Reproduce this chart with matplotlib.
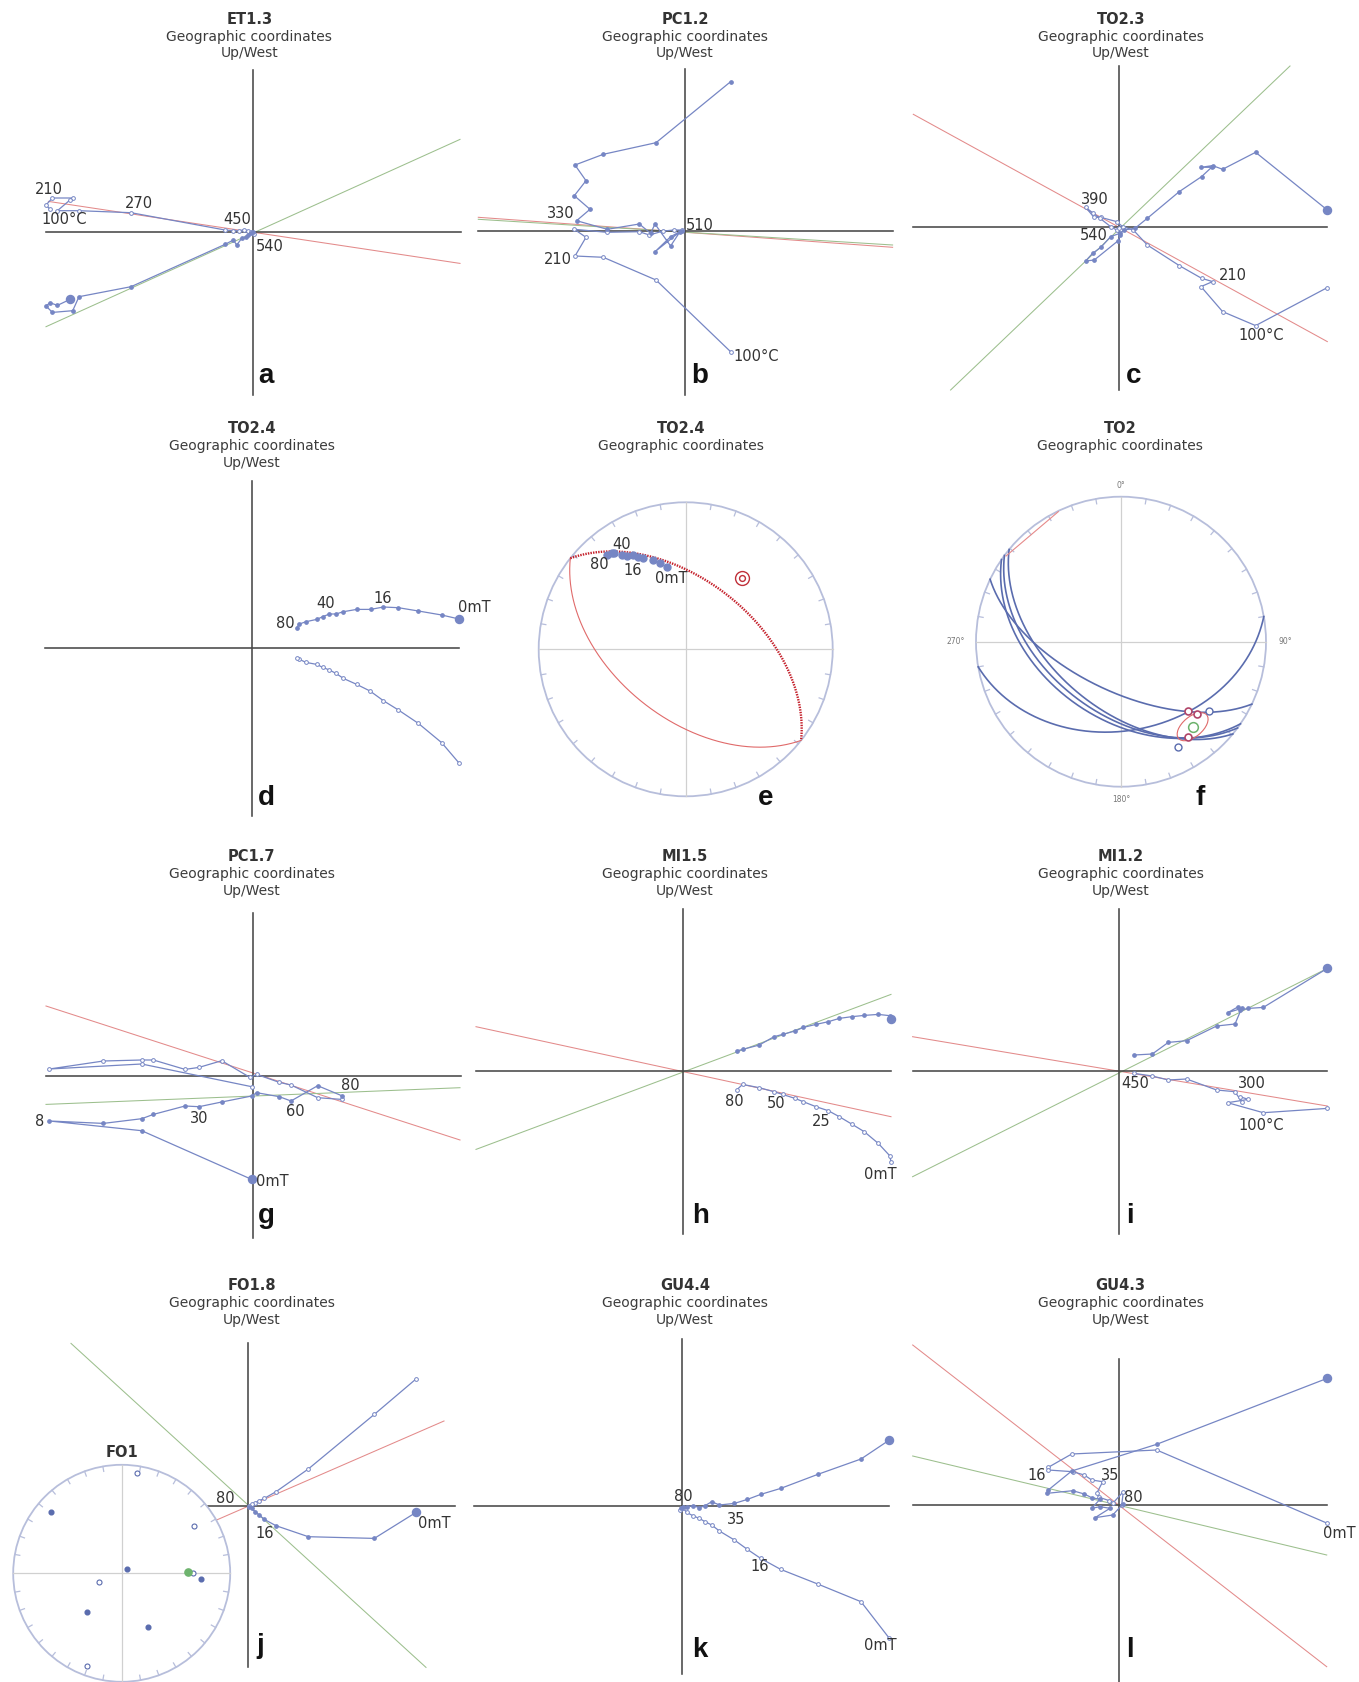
import numpy as np
import matplotlib.pyplot as plt
from matplotlib.patches import Circle, Ellipse

W, H = 1359, 1682

BLUE = '#7686c4'
NET_BLUE = '#5a6cae'
AXIS = '#474747'
RED_FIT = '#e38a8a'
GREEN_FIT = '#9cbf8d'
NET_EDGE = '#b7bedb'
NET_GRID = '#d0d0d0'
TXT = '#333333'

# ---------------------------------------------------------------------------
# Orthogonal vector plots: (E/W, N/Up) components, horizontal = filled,
# vertical = open.  Units are plot units with the origin at the axes cross.
# ---------------------------------------------------------------------------
ET13_HOR = [(-182.7, -67.7), (-195.3, -73.7), (-202.7, -71.0), (-206.7, -74.3), (-200.3, -80.7),
            (-180.0, -79.0), (-173.7, -65.0), (-121.7, -55.0), (-27.7, -12.7), (-19.3, -8.3),
            (-16.0, -13.3), (-11.0, -6.7), (-6.7, -5.7), (-4.3, -3.3), (-2.0, -1.7), (0.0, -0.7)]
ET13_VER = [(-202.7, 22.3), (-206.7, 26.7), (-200.3, 33.7), (-180.0, 33.7), (-182.7, 31.7),
            (-195.3, 21.0), (-173.7, 21.0), (-121.7, 19.0), (-27.7, 1.7), (-19.3, 1.0),
            (-13.3, 1.0), (-8.3, 2.0), (-4.3, 0.7), (-2.0, -0.7), (1.3, -2.7)]
ET13_RED = [(-204.3, 30.3), (207.3, -31.7)]
ET13_GREEN = [(-206.7, -95.0), (207.3, 92.3)]
ET13_STEPS = ['210', '270', '100°C', '450', '540']

PC12_HOR = [(45.3, 149.3), (-29.3, 88.3), (-82.0, 76.7), (-110.3, 66.0), (-99.3, 50.3),
            (-111.0, 35.3), (-95.3, 21.7), (-108.7, 10.3), (-78.0, 1.7), (-46.0, 7.0),
            (-34.7, -2.3), (-30.3, 7.0), (-14.7, -15.0), (-5.3, -0.7), (-30.3, -20.7),
            (-14.7, -5.7), (-3.7, 0.3)]
PC12_VER = [(45.3, -120.7), (-29.3, -49.0), (-82.0, -26.3), (-110.3, -25.0), (-99.3, -6.3),
            (-111.0, 1.7), (-78.7, -1.3), (-46.0, -0.7), (-36.0, -4.0), (-22.0, 0.0),
            (-11.3, 1.0), (-3.7, 1.0)]
PC12_RED = [(-207.0, 13.7), (207.3, -16.3)]
PC12_GREEN = [(-207.0, 11.7), (207.3, -14.0)]
PC12_STEPS = ['330', '510', '210', '100°C']

TO23_HOR = [(208.0, 17.3), (136.3, 75.0), (103.3, 58.0), (93.3, 61.7), (81.7, 60.0),
            (92.3, 60.0), (82.3, 50.7), (60.0, 35.7), (28.0, 9.0), (15.7, -1.0),
            (4.7, -2.7), (0.7, -6.0), (-8.7, -9.3), (-18.3, -20.0), (-26.7, -26.0),
            (-33.7, -33.7), (-25.0, -32.7), (-1.0, -13.3), (0.7, -7.7)]
TO23_VER = [(208.0, -60.3), (136.3, -98.3), (103.3, -84.3), (81.7, -59.3), (93.3, -54.3),
            (82.3, -51.0), (60.0, -38.3), (28.0, -17.7), (14.0, -2.7), (3.3, 0.7),
            (-2.7, 5.7), (-18.7, 10.0), (-25.3, 10.0), (-33.7, 20.0), (-26.0, 14.0),
            (-19.3, 9.0), (-8.7, 0.7), (-2.7, -2.7), (0.0, -1.0)]
TO23_RED = [(-206.0, 113.0), (208.0, -114.3)]
TO23_GREEN = [(-168.7, -162.7), (170.7, 161.3)]
TO23_STEPS = ['390', '540', '210', '100°C']

TO24_HOR = [(207.3, 28.7), (190.0, 32.7), (166.7, 36.7), (146.7, 40.0), (131.7, 40.7),
            (119.0, 38.3), (105.0, 38.3), (91.7, 36.0), (84.3, 33.7), (77.7, 33.7),
            (71.0, 31.0), (65.0, 28.3), (54.3, 26.0), (47.7, 23.7), (45.0, 20.0)]
TO24_VER = [(207.3, -115.3), (190.0, -95.0), (166.7, -75.7), (146.7, -62.3), (131.7, -53.0),
            (118.3, -43.3), (105.0, -36.7), (91.7, -30.7), (84.3, -25.7), (77.7, -22.3),
            (71.0, -19.7), (65.0, -16.7), (54.3, -14.7), (47.7, -11.7), (45.0, -10.7)]
TO24_STEPS = ['80', '40', '16', '0mT']

PC17_HOR = [(-1.0, -103.7), (-111.0, -55.0), (-203.3, -45.3), (-149.3, -47.7), (-111.0, -43.0),
            (-99.3, -38.7), (-67.7, -30.3), (-53.7, -31.0), (-31.0, -26.3), (-1.0, -20.3),
            (4.0, -17.0), (26.7, -21.0), (38.3, -25.3), (65.0, -10.0), (89.0, -20.0)]
PC17_VER = [(-1.0, -11.0), (-111.0, 11.7), (-203.3, 6.7), (-149.3, 14.7), (-111.0, 15.7),
            (-99.3, 15.7), (-67.7, 6.3), (-53.7, 8.3), (-31.0, 15.0), (-2.7, -1.7),
            (4.0, 1.3), (26.7, -6.7), (38.3, -9.3), (65.0, -22.0), (89.0, -23.7)]
PC17_RED = [(-206.7, 69.7), (207.3, -64.3)]
PC17_GREEN = [(-206.7, -28.7), (207.3, -12.0)]
PC17_STEPS = ['8', '30', '60', '80', '0mT']

MI15_HOR = [(207.7, 51.3), (206.7, 55.0), (195.0, 56.3), (181.0, 55.3), (168.3, 54.0),
            (156.0, 52.3), (145.0, 49.0), (132.7, 46.3), (120.0, 43.3), (111.7, 39.7),
            (99.3, 36.3), (90.7, 34.0), (76.0, 25.7), (59.3, 21.3), (53.3, 19.7)]
MI15_VER = [(207.7, -91.7), (206.7, -85.3), (195.0, -72.7), (181.0, -61.0), (168.3, -53.3),
            (156.0, -46.0), (145.0, -40.0), (132.7, -36.0), (120.0, -31.0), (111.7, -27.7),
            (99.3, -23.7), (90.7, -21.0), (76.0, -17.0), (59.3, -13.7), (53.3, -19.3)]
MI15_RED = [(-207.3, 44.0), (207.7, -46.0)]
MI15_GREEN = [(-207.3, -78.7), (207.7, 76.3)]
MI15_STEPS = ['80', '50', '25', '0mT']

MI12_HOR = [(208.0, 102.3), (144.0, 63.3), (129.0, 62.3), (120.7, 60.7), (119.0, 64.0),
            (108.3, 58.0), (122.3, 62.3), (115.7, 46.7), (97.3, 44.7), (67.3, 30.0),
            (49.0, 28.3), (33.0, 16.7), (15.0, 15.7)]
MI12_VER = [(208.0, -37.7), (144.0, -42.0), (108.3, -32.0), (129.0, -28.7), (120.7, -26.0),
            (122.3, -31.0), (115.7, -21.0), (97.3, -19.3), (67.3, -8.3), (49.0, -9.3),
            (33.0, -5.3), (15.0, -2.7)]
MI12_RED = [(-206.7, 34.0), (208.0, -35.3)]
MI12_GREEN = [(-206.7, -106.0), (208.0, 102.3)]
MI12_STEPS = ['450', '300', '100°C']

FO18_HOR = [(167.7, -6.7), (126.0, -32.7), (60.0, -31.0), (27.7, -20.0), (16.0, -13.7),
            (11.0, -9.3), (6.7, -6.0), (3.3, -2.7), (1.0, -1.0)]
FO18_VER = [(167.7, 126.7), (126.0, 91.3), (60.0, 36.7), (27.7, 14.0), (16.0, 7.3),
            (11.0, 5.0), (6.7, 3.0), (3.3, 1.3), (1.0, 0.0)]
FO18_RED = [(-31.7, -14.3), (195.7, 84.7)]
FO18_GREEN = [(-177.3, 162.3), (177.7, -161.7)]
FO18_STEPS = ['80', '16', '0mT']

GU44_HOR = [(207.7, 65.7), (179.3, 46.7), (136.0, 31.3), (99.0, 17.3), (79.0, 11.3),
            (65.7, 6.3), (52.7, 2.3), (37.7, 0.7), (30.0, 4.0), (23.3, 0.0), (17.7, -2.0),
            (11.7, 0.0), (5.0, -1.0), (1.7, -1.7), (-1.0, -2.7)]
GU44_VER = [(207.7, -132.7), (179.3, -96.0), (136.0, -78.3), (99.0, -63.7), (79.0, -52.7),
            (65.7, -43.7), (52.7, -34.3), (37.7, -25.3), (30.0, -19.3), (23.3, -16.0),
            (17.7, -12.7), (11.7, -10.3), (5.0, -6.7), (1.7, -2.7), (-1.7, -4.3)]
GU44_STEPS = ['80', '35', '16', '0mT']

GU43_HOR = [(208.3, 126.7), (37.7, 60.7), (-47.3, 34.0), (-70.7, 15.0), (-71.7, 11.7),
            (-46.3, 14.3), (-34.7, 11.0), (-27.3, 7.3), (-19.0, 5.7), (-27.3, -3.3),
            (-19.0, -1.7), (-9.0, -3.3), (-24.0, -12.7), (-6.3, -10.0), (3.7, 0.7)]
GU43_VER = [(208.3, -18.3), (37.7, 55.0), (-47.3, 51.0), (-70.7, 37.7), (-70.7, 35.0),
            (-46.3, 33.3), (-34.7, 30.0), (-27.3, 25.0), (-16.3, 23.3), (-22.3, 11.7),
            (-19.7, 7.7), (-9.7, 4.3), (-5.7, 2.3), (4.3, 13.3), (2.7, 0.0)]
GU43_RED = [(-206.3, 160.0), (207.7, -161.7)]
GU43_GREEN = [(-206.3, 49.0), (207.7, -50.0)]
GU43_STEPS = ['16', '35', '80', '0mT']

# ---------------------------------------------------------------------------
# Equal-area data
# ---------------------------------------------------------------------------
# TO2.4 AF steps (projected x/east, y/north on a unit net) and remagnetisation pole
TO24_DIRS = [(-0.537, 0.642), (-0.503, 0.653), (-0.485, 0.658), (-0.435, 0.642),
             (-0.401, 0.635), (-0.356, 0.642), (-0.322, 0.630), (-0.288, 0.619),
             (-0.224, 0.608), (-0.175, 0.585), (-0.129, 0.562)]
TO24_POLE = (38.3, 38.4)          # dec, inc
TO24_DIR_LABELS = ['40', '80', '16', '0mT']

# TO2 site: remagnetisation circles (strike, dip) and directions
TO2_CIRCLES = [(80.0, 38.5), (115.5, 62.0), (124.5, 46.0), (126.5, 49.0), (129.5, 52.0)]
TO2_RED_PTS = [(0.464, -0.478), (0.522, -0.499), (0.464, -0.655)]
TO2_BLUE_PTS = [(0.609, -0.478), (0.395, -0.724)]
TO2_MEAN = (0.494, -0.586)
TO2_A95 = (0.253, 0.138, 40.0)    # ellipse width, height, angle
TO2_RED_ARC = [(-0.793, 0.591), (-0.432, 0.897)]

# FO1 site directions
FO1_DOWN = [(-0.654, 0.568), (0.046, 0.040), (0.728, -0.052), (-0.323, -0.353), (0.240, -0.492)]
FO1_UP = [(0.138, 0.922), (0.667, 0.439), (-0.209, -0.077), (0.661, 0.006), (-0.316, -0.851)]
FO1_MEAN = (0.608, 0.015)

fig = plt.figure(figsize=(W / 100, H / 100), dpi=100)
fig.patch.set_facecolor('white')


def fig_text(x, y, s, **kw):
    kw.setdefault('color', TXT)
    fig.text(x / W, 1 - y / H, s, **kw)


def header(x, y, name, subtitle=True):
    fig_text(x, y[0], name, ha='center', va='center', fontsize=10.5, fontweight='bold')
    fig_text(x, y[1], 'Geographic coordinates', ha='center', va='center', fontsize=10,
             color='#3c3c3c')
    if subtitle:
        fig_text(x, y[2], 'Up/West', ha='center', va='center', fontsize=10, color='#3c3c3c')


def letter(x, y, s):
    fig_text(x, y, s, ha='left', va='baseline', fontsize=20, fontweight='bold',
             family='Liberation Sans', color='#111111')


def zijderveld(origin, frame, hor, ver, red=None, green=None, big=True):
    ox, oy = origin
    xmin, xmax, ymin, ymax = frame
    pad = 40
    ax = fig.add_axes([(ox + xmin - pad) / W, (H - oy + ymin - pad) / H,
                       (xmax - xmin + 2 * pad) / W, (ymax - ymin + 2 * pad) / H])
    ax.set_xlim(xmin - pad, xmax + pad)
    ax.set_ylim(ymin - pad, ymax + pad)
    ax.axis('off')
    for line, col in ((red, RED_FIT), (green, GREEN_FIT)):
        if line is not None:
            xs, ys = zip(*line)
            ax.plot(xs, ys, color=col, lw=0.75, zorder=1, clip_on=False)
    ax.plot([xmin, xmax], [0, 0], color=AXIS, lw=1.15, zorder=2, clip_on=False)
    ax.plot([0, 0], [ymin, ymax], color=AXIS, lw=1.15, zorder=2, clip_on=False)
    xs, ys = zip(*ver)
    ax.plot(xs, ys, color=BLUE, lw=0.9, marker='o', ms=2.7, mfc='white', mec=BLUE,
            mew=0.7, zorder=3, clip_on=False)
    xs, ys = zip(*hor)
    ax.plot(xs, ys, color=BLUE, lw=0.9, marker='o', ms=2.4, mfc=BLUE, mec=BLUE,
            zorder=4, clip_on=False)
    if big:
        ax.plot(hor[0][0], hor[0][1], 'o', ms=5.8, color=BLUE, zorder=5, clip_on=False)
    return ax


def step_labels(ax, texts, spots):
    for s, (x, y) in zip(texts, spots):
        ax.text(x, y, s, ha='center', va='center', fontsize=10.5,
                color=TXT, zorder=6, clip_on=False)


def eqarea(v):
    inc = np.degrees(np.arcsin(np.clip(v[2], -1, 1)))
    dec = np.arctan2(v[1], v[0])
    r = np.sqrt(2) * np.sin(np.radians(90 - np.abs(inc)) / 2)
    return r * np.sin(dec), r * np.cos(dec)


def dir2cart(dec, inc):
    d, i = np.radians(dec), np.radians(inc)
    return np.array([np.cos(i) * np.cos(d), np.cos(i) * np.sin(d), np.sin(i)])


def great_circle(pdec, pinc, n=500):
    p = dir2cart(pdec, pinc)
    a = np.cross(p, [0, 0, 1.0])
    a /= np.linalg.norm(a)
    b = np.cross(p, a)
    if b[2] < 0:
        b = -b
    t = np.linspace(0, np.pi, n)
    lower = np.outer(a, np.cos(t)) + np.outer(b, np.sin(t))
    upper = np.outer(a, np.cos(t)) - np.outer(b, np.sin(t))
    return eqarea(lower), eqarea(upper)


def net(center, radius, pad=30):
    cx, cy = center
    ax = fig.add_axes([(cx - radius - pad) / W, 1 - (cy + radius + pad) / H,
                       2 * (radius + pad) / W, 2 * (radius + pad) / H])
    lim = 1 + pad / radius
    ax.set_xlim(-lim, lim)
    ax.set_ylim(-lim, lim)
    ax.axis('off')
    ax.add_patch(Circle((0, 0), 1, facecolor='white', edgecolor=NET_EDGE, lw=1.3, zorder=1))
    ax.plot([-1, 1], [0, 0], color=NET_GRID, lw=0.9, zorder=1.5)
    ax.plot([0, 0], [-1, 1], color=NET_GRID, lw=0.9, zorder=1.5)
    tick = 5.0 / radius
    for az in range(10, 360, 10):
        if az % 90 == 0:
            continue
        s, c = np.sin(np.radians(az)), np.cos(np.radians(az))
        ax.plot([s, (1 - tick) * s], [c, (1 - tick) * c], color=NET_EDGE, lw=0.9, zorder=1.5)
    return ax


# ---------------- row 1 ----------------
header(249.3, (20, 36.7, 53.3), 'ET1.3')
ax = zijderveld((252.7, 231.7), (-206.7, 208.3, -163.3, 161.7), ET13_HOR, ET13_VER,
                ET13_RED, ET13_GREEN)
step_labels(ax, ET13_STEPS, [(-203.7, 42.3), (-113.7, 28.3), (-188.7, 11.7), (-15.0, 11.7),
                             (17.3, -15.0)])
letter(258.3, 383.3, 'a')

header(685.0, (20, 36.7, 53.3), 'PC1.2')
ax = zijderveld((685.3, 231.0), (-207.0, 207.4, -164.0, 161.7), PC12_HOR, PC12_VER,
                PC12_RED, PC12_GREEN, big=False)
step_labels(ax, PC12_STEPS, [(-124.3, 17.0), (14.5, 6.0), (-127.0, -28.3), (71.3, -125.7)])
letter(691.0, 383.3, 'b')

header(1120.7, (20, 36.7, 53.3), 'TO2.3')
ax = zijderveld((1119.3, 227.3), (-206.0, 208.0, -162.7, 161.3), TO23_HOR, TO23_VER,
                TO23_RED, TO23_GREEN)
step_labels(ax, TO23_STEPS, [(-24.3, 28.3), (-26.0, -8.7), (113.3, -47.7), (142.3, -107.7)])
letter(1126.0, 383.3, 'c')

# ---------------- row 2 ----------------
header(251.7, (428.3, 445.7, 462.7), 'TO2.4')
ax = zijderveld((251.7, 647.7), (-206.7, 207.3, -168.3, 167.0), TO24_HOR, TO24_VER)
step_labels(ax, TO24_STEPS, [(33.3, 24.3), (74.3, 43.7), (131.0, 49.3), (222.4, 40.6)])
letter(258.3, 805.0, 'd')

header(681.0, (428.3, 445.7), 'TO2.4', subtitle=False)
ax = net((685.7, 649.3), 147.0)
(lx, ly), (ux, uy) = great_circle(*TO24_POLE)
ax.plot(lx, ly, color='#e06a6a', lw=0.8, zorder=2)
ax.plot(ux, uy, color='#c41f2a', lw=1.7, ls=(0, (0.6, 0.5)), zorder=2)
px, py = eqarea(dir2cart(*TO24_POLE)[:, None])
ax.plot(px, py, 'o', ms=10, mfc='none', mec='#c0303a', mew=1.0, zorder=3)
ax.plot(px, py, 'o', ms=4.2, mfc='none', mec='#c0303a', mew=1.0, zorder=3)
xs, ys = zip(*TO24_DIRS)
ax.plot(xs, ys, 'o', ms=5.0, color=BLUE, zorder=4)
for s, (x, y) in zip(TO24_DIR_LABELS, [(-0.433, 0.715), (-0.590, 0.575), (-0.364, 0.535),
                                        (-0.098, 0.480)]):
    ax.text(x, y, s, ha='center', va='center', fontsize=10.5, color=TXT, zorder=5)
letter(757.7, 805.0, 'e')

header(1120.0, (428.3, 445.7), 'TO2', subtitle=False)
ax = net((1121.0, 641.7), 145.0)
for strike, dip in TO2_CIRCLES:
    (lx, ly), _ = great_circle(strike + 270.0, 90.0 - dip)
    ax.plot(lx, ly, color=NET_BLUE, lw=1.2, zorder=2)
xs, ys = zip(*TO2_RED_ARC)
ax.plot(xs, ys, color='#e68a8a', lw=0.8, zorder=2)
ax.add_patch(Ellipse(TO2_MEAN, TO2_A95[0], TO2_A95[1], angle=TO2_A95[2], facecolor='none',
                     edgecolor='#e06a6a', lw=0.8, zorder=3))
xs, ys = zip(*TO2_RED_PTS)
ax.plot(xs, ys, 'o', ms=5.0, mfc='white', mec='#b04468', mew=1.2, ls='none', zorder=4)
xs, ys = zip(*TO2_BLUE_PTS)
ax.plot(xs, ys, 'o', ms=5.0, mfc='white', mec=NET_BLUE, mew=1.0, ls='none', zorder=4)
ax.plot(*TO2_MEAN, 'o', ms=7.0, mfc='white', mec='#6db36d', mew=1.1, zorder=4)
for s, x, y in [('0°', 0, 1.08), ('90°', 1.13, 0.0), ('180°', 0, -1.09), ('270°', -1.14, 0.0)]:
    ax.text(x, y, s, ha='center', va='center', fontsize=5.5, color='#777777')
letter(1195.0, 805.0, 'f')

# ---------------- row 3 ----------------
header(251.7, (856.7, 874.0, 891.0), 'PC1.7')
ax = zijderveld((252.7, 1075.7), (-206.7, 208.3, -162.7, 162.3), PC17_HOR, PC17_VER,
                PC17_RED, PC17_GREEN)
step_labels(ax, PC17_STEPS, [(-212.7, -45.3), (-53.3, -42.7), (42.3, -35.3), (97.3, -9.3),
                             (19.5, -105.3)])
letter(258.3, 1223.3, 'g')

header(685.0, (856.7, 874.0, 891.0), 'MI1.5')
ax = zijderveld((683.3, 1070.7), (-207.3, 207.7, -163.3, 161.3), MI15_HOR, MI15_VER,
                MI15_RED, MI15_GREEN)
step_labels(ax, MI15_STEPS, [(50.7, -31.0), (92.7, -33.3), (138.3, -51.0), (197.3, -103.7)])
letter(691.7, 1222.7, 'h')

header(1120.7, (856.7, 874.0, 891.0), 'MI1.2')
ax = zijderveld((1119.3, 1070.7), (-206.7, 208.0, -163.3, 161.3), MI12_HOR, MI12_VER,
                MI12_RED, MI12_GREEN)
step_labels(ax, MI12_STEPS, [(15.7, -12.7), (132.3, -12.7), (142.3, -55.3)])
letter(1126.0, 1222.7, 'i')

# ---------------- row 4 ----------------
header(251.7, (1285.0, 1302.7, 1320.0), 'FO1.8')
ax = zijderveld((248.3, 1505.7), (-40.0, 206.7, -161.7, 162.3), FO18_HOR, FO18_VER,
                FO18_RED, FO18_GREEN)
step_labels(ax, FO18_STEPS, [(-22.7, 7.3), (16.0, -28.3), (185.7, -17.7)])
letter(256.7, 1653.3, 'j')

ax = net((121.7, 1573.3), 108.5)
xs, ys = zip(*FO1_DOWN)
ax.plot(xs, ys, 'o', ms=3.4, color=NET_BLUE, ls='none', zorder=4)
xs, ys = zip(*FO1_UP)
ax.plot(xs, ys, 'o', ms=3.6, mfc='white', mec=NET_BLUE, mew=0.8, ls='none', zorder=4)
ax.plot(*FO1_MEAN, 'o', ms=5.2, color='#6db36d', zorder=5)
fig_text(121.7, 1452.7, 'FO1', ha='center', va='center', fontsize=10.5, fontweight='bold')

header(685.0, (1285.0, 1302.7, 1320.0), 'GU4.4')
ax = zijderveld((681.7, 1505.7), (-207.7, 207.3, -168.7, 166.7), GU44_HOR, GU44_VER)
step_labels(ax, GU44_STEPS, [(1.7, 9.0), (54.3, -13.7), (77.7, -61.0), (199.0, -139.3)])
letter(691.7, 1656.7, 'k')

header(1120.7, (1285.0, 1302.7, 1320.0), 'GU4.3')
ax = zijderveld((1119.0, 1505.0), (-206.3, 207.7, -177.0, 145.7), GU43_HOR, GU43_VER,
                GU43_RED, GU43_GREEN)
step_labels(ax, GU43_STEPS, [(-82.3, 29.0), (-9.0, 30.0), (14.3, 7.7), (220.3, -29.0)])
letter(1126.0, 1656.7, 'l')

fig.savefig('out.png', dpi=100, facecolor='white')
